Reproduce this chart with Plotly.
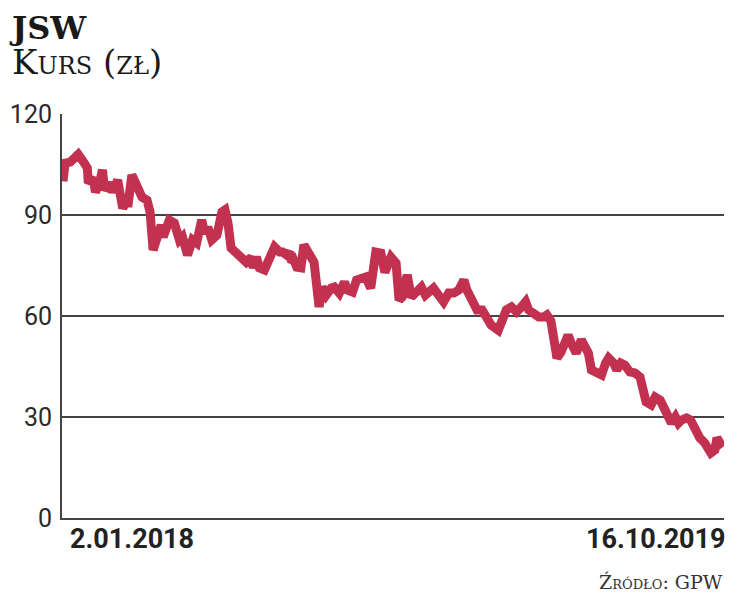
import plotly.graph_objects as go

dates = [
    "2018-01-02", "2018-01-04", "2018-01-09", "2018-01-17", "2018-01-21", "2018-01-26", "2018-01-27",
    "2018-02-01", "2018-02-03", "2018-02-07", "2018-02-10", "2018-02-12", "2018-02-17", "2018-02-20",
    "2018-02-25", "2018-03-02", "2018-03-06", "2018-03-07", "2018-03-11", "2018-03-16", "2018-03-21",
    "2018-03-26", "2018-03-29", "2018-04-01", "2018-04-05", "2018-04-09", "2018-04-11", "2018-04-17",
    "2018-04-22", "2018-04-27", "2018-04-30", "2018-05-05", "2018-05-10", "2018-05-14", "2018-05-19",
    "2018-05-22", "2018-05-25", "2018-05-29", "2018-06-03", "2018-06-08", "2018-06-11", "2018-06-14",
    "2018-06-17", "2018-06-22", "2018-06-27", "2018-07-02", "2018-07-07", "2018-07-09", "2018-07-12",
    "2018-07-15", "2018-07-20", "2018-07-25", "2018-07-30", "2018-08-04", "2018-08-07", "2018-08-11",
    "2018-08-14", "2018-08-16", "2018-08-18", "2018-08-21", "2018-08-25", "2018-08-28", "2018-08-31",
    "2018-09-04", "2018-09-07", "2018-09-10", "2018-09-12", "2018-09-15", "2018-09-19", "2018-09-24",
    "2018-09-27", "2018-10-02", "2018-10-07", "2018-10-10", "2018-10-15", "2018-10-19", "2018-10-23",
    "2018-10-28", "2018-11-02", "2018-11-07", "2018-11-12", "2018-11-16", "2018-11-22", "2018-11-27",
    "2018-11-30", "2018-12-03", "2018-12-08", "2018-12-12", "2018-12-17", "2018-12-22", "2018-12-26",
    "2018-12-29", "2019-01-03", "2019-01-08", "2019-01-13", "2019-01-18", "2019-01-23", "2019-01-28",
    "2019-02-02", "2019-02-05", "2019-02-10", "2019-02-15", "2019-02-20", "2019-02-25", "2019-03-01",
    "2019-03-08", "2019-03-11", "2019-03-16", "2019-03-21", "2019-03-26", "2019-03-30", "2019-04-04",
    "2019-04-07", "2019-04-12", "2019-04-17", "2019-04-22", "2019-04-25", "2019-04-29", "2019-05-02",
    "2019-05-05", "2019-05-09", "2019-05-16", "2019-05-19", "2019-05-24", "2019-05-29", "2019-06-02",
    "2019-06-05", "2019-06-08", "2019-06-13", "2019-06-18", "2019-06-22", "2019-06-25", "2019-06-30",
    "2019-07-03", "2019-07-07", "2019-07-11", "2019-07-16", "2019-07-21", "2019-07-26", "2019-07-29",
    "2019-08-01", "2019-08-06", "2019-08-10", "2019-08-15", "2019-08-18", "2019-08-21", "2019-08-26",
    "2019-08-30", "2019-09-02", "2019-09-05", "2019-09-10", "2019-09-14", "2019-09-18", "2019-09-23",
    "2019-09-28", "2019-10-01", "2019-10-04", "2019-10-08", "2019-10-10", "2019-10-13", "2019-10-16",
]

kurs = [
    100, 105.4, 105.7, 108, 106.3, 104, 99.5,
    101, 96.8, 99.5, 103.4, 97.4, 99.5, 96.8,
    100.4, 92, 94.4, 92.4, 101.9, 98.3, 95.3,
    94.4, 90.9, 79.6, 84.6, 87, 83.5, 88.5,
    87.6, 82.6, 83.5, 78.1, 82.6, 81.7, 88.5,
    84.6, 86.4, 82.6, 84, 90.9, 91.5, 87.6,
    80.2, 79, 77.2, 76, 77.5, 74.3, 77.5,
    74.3, 73.7, 76.6, 80.5, 79, 79, 78.1,
    79, 76, 76.6, 74.5, 74.3, 81.1, 79,
    77.5, 76, 63.9, 62.7, 68.6, 66.2, 68.3,
    68.6, 66.8, 70.1, 67.7, 67.1, 70.7, 71.3,
    71.6, 68.3, 79, 78.7, 73, 77.5, 75.7,
    64.7, 65.6, 72.2, 65.6, 67.1, 68.6, 66.2,
    67.1, 68.3, 66.2, 64.2, 66.8, 66.8, 67.7,
    70.7, 67.7, 64.2, 61.8, 61.8, 59.4, 57.3,
    55.8, 58.8, 61.8, 62.7, 61.2, 62.4, 64.2,
    61.8, 60.9, 59.7, 59.7, 60.3, 58.5, 50,
    47.5, 49.3, 54.3, 52, 49, 52.9, 50.5,
    49, 44, 43.4, 42.5, 46, 47.5, 46,
    44, 46, 45.4, 43.4, 43.1, 41.9, 38,
    34.5, 33.6, 35.9, 35, 33, 30.6, 28.2,
    30, 28.2, 29.1, 29.7, 29.1, 26.1, 23.8,
    22.3, 21.1, 19.3, 20.2, 23.8, 22.3, 21.1,
]

y_ticks = [0, 30, 60, 90, 120]
x_labels = ["2.01.2018", "16.10.2019"]
x_label_dates = ["2018-01-02", "2019-10-16"]

LINE_COLOR = "#C2314F"
GRID = "#444444"

# plot area in figure pixels (page adds an 8px body margin)
L, R, T, B = 54, 24, 106, 83
PW, PH = 740 - L - R, 593 - T - B

fig = go.Figure()
fig.add_trace(go.Scatter(
    x=dates, y=kurs, mode="lines",
    line=dict(color=LINE_COLOR, width=9, shape="linear"),
    hoverinfo="skip", showlegend=False,
))

fig.update_layout(
    width=740, height=593,
    margin=dict(l=L, r=R, t=T, b=B, autoexpand=False),
    paper_bgcolor="white", plot_bgcolor="white",
    font=dict(family="Roboto, Liberation Sans, sans-serif", color="#222222"),
    xaxis=dict(
        type="date",
        range=["2018-01-01", "2019-10-17"],
        showgrid=False, zeroline=False,
        showticklabels=False, ticks="",
        showline=True, linecolor=GRID, linewidth=2,
        automargin=False, fixedrange=True,
    ),
    yaxis=dict(
        range=[0, 120],
        tickvals=y_ticks,
        ticktext=[str(v) for v in y_ticks],
        showgrid=True, gridcolor=GRID, gridwidth=1.6,
        zeroline=False,
        showline=True, linecolor=GRID, linewidth=2,
        ticks="", ticklabelstandoff=3,
        tickfont=dict(size=25, color="#2a2a2a", family="Roboto, sans-serif"),
        automargin=False, fixedrange=True,
    ),
)

# bottom date labels
fig.add_annotation(x=x_label_dates[0], y=0, xref="x", yref="y", text=x_labels[0],
                   showarrow=False, xanchor="left", yanchor="top", xshift=5, yshift=-3,
                   font=dict(size=27, color="#222222", family="Roboto, sans-serif", weight="bold"))
fig.add_annotation(x=x_label_dates[1], y=0, xref="x", yref="y", text=x_labels[1],
                   showarrow=False, xanchor="right", yanchor="top", xshift=5, yshift=-3,
                   font=dict(size=27, color="#222222", family="Roboto, sans-serif", weight="bold"))

# title block (one annotation, two lines)
fig.add_annotation(
    text="<span style='font-size:32px'><b>JSW</b></span><br>"
         "<span style='font-size:34px'>Kurs (zł)</span>",
    xref="paper", yref="paper",
    x=-54 / PW, y=1 + 106 / PH,
    xanchor="left", yanchor="top", align="left", showarrow=False, borderpad=0,
    font=dict(size=27, color="#1a1a1a", family="DejaVu Serif, serif", variant="small-caps"))
fig.add_annotation(text="Źródło: GPW", xref="paper", yref="paper",
                   x=663 / PW, y=-77 / PH,
                   xanchor="right", yanchor="bottom", showarrow=False,
                   font=dict(size=19, color="#333333", family="DejaVu Serif, serif", variant="small-caps"))

fig.write_html("out.html")
